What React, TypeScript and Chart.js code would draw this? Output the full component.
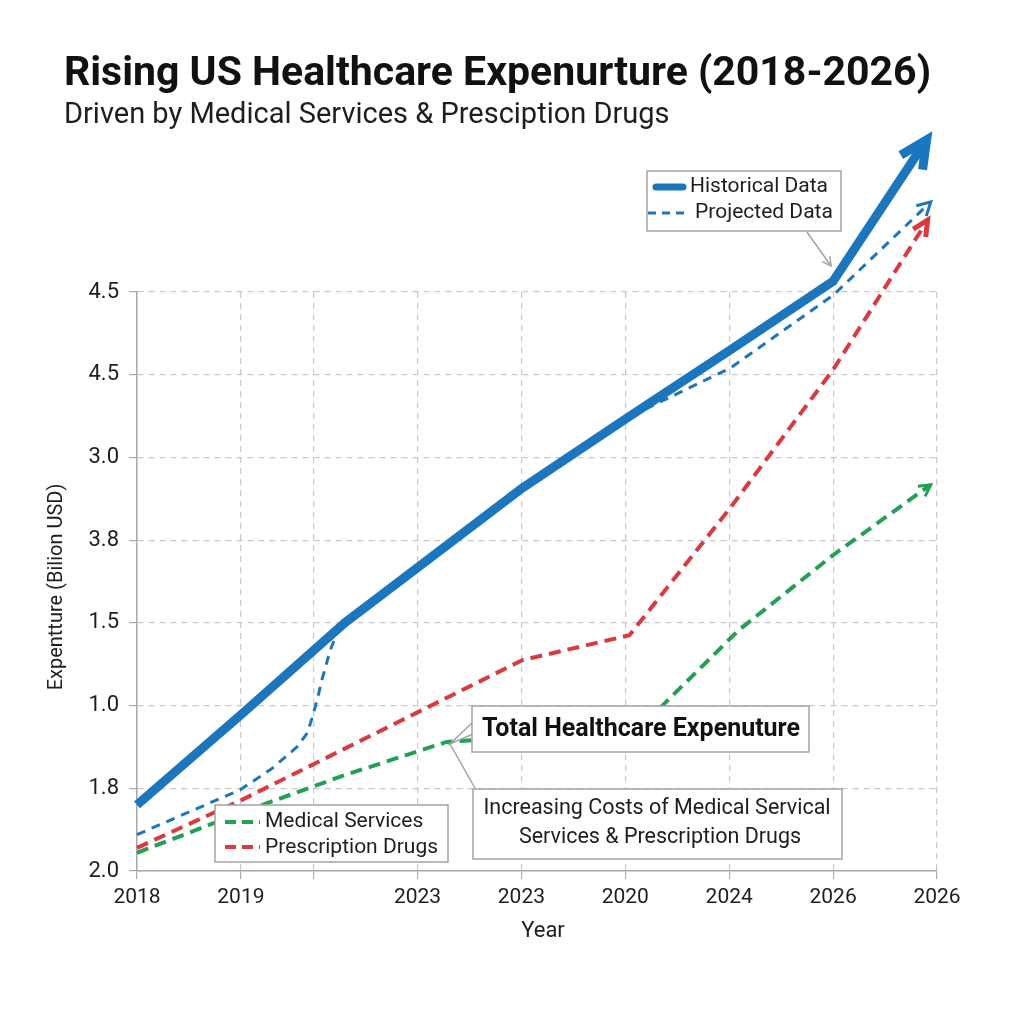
import React, { useEffect, useRef } from 'react';
import { Chart, registerables } from 'chart.js';

Chart.register(...registerables);

// ---- data ----
const xTickPositions = [0, 1, 1.7, 2.7, 3.7, 4.7, 5.7, 6.7, 7.7];
const xTickLabels = ['2018', '2019', '', '2023', '2023', '2020', '2024', '2026', '2026'];
const yTickLabels = ['2.0', '1.8', '1.0', '1.5', '3.8', '3.0', '4.5', '4.5'];

const historicalX = [0, 1.01, 2.0, 3.71, 4.72, 5.71, 6.7, 7.6];
const historicalY = [0.8, 1.9, 3.0, 4.63, 5.48, 6.3, 7.13, 8.84];

const projectedX = [0, 0.99, 1.3, 1.54, 1.64, 1.69, 1.74, 1.78, 1.86, 1.93, 2.0, 3.71, 4.72, 5.71, 6.7, 7.64];
const projectedY = [0.44, 0.98, 1.24, 1.5, 1.67, 1.87, 2.1, 2.31, 2.67, 2.89, 3.01, 4.63, 5.48, 6.08, 6.96, 8.09];

const prescriptionX = [0, 1.01, 3.71, 4.74, 5.71, 6.7, 7.61];
const prescriptionY = [0.28, 0.86, 2.55, 2.85, 4.39, 6.06, 7.87];

const medicalX = [0, 1.01, 2.0, 2.98, 4.84, 5.79, 6.7, 7.64];
const medicalY = [0.22, 0.71, 1.16, 1.56, 1.73, 2.91, 3.82, 4.67];

const titleText = 'Rising US Healthcare Expenurture (2018-2026)';
const subtitleText = 'Driven by Medical Services & Presciption Drugs';
const xAxisTitle = 'Year';
const yAxisTitle = 'Expentture (Bilion USD)';
const legendTop = ['Historical Data', 'Projected Data'];
const legendBottom = ['Medical Services', 'Prescription Drugs'];
const calloutMain = 'Total Healthcare Expenuture';
const calloutSub = ['Increasing Costs of Medical Servical', 'Services & Prescription Drugs'];

const BLUE = '#1c76bd';
const RED = '#d83a40';
const GREEN = '#23a056';
const FONT = 'Roboto, "Noto Sans", sans-serif';
const TEXT = '#1e1e1e';
const BOX = '#a3a3a3';

const toPts = (xs: number[], ys: number[]) => xs.map((x, i) => ({ x, y: ys[i] }));

function arrowHead(ctx: CanvasRenderingContext2D, from: any, to: any, len: number, spread: number, width: number, color: string) {
  const a = Math.atan2(to.y - from.y, to.x - from.x);
  ctx.save();
  ctx.setLineDash([]);
  ctx.strokeStyle = color;
  ctx.lineWidth = width;
  ctx.lineJoin = 'miter';
  ctx.lineCap = 'butt';
  ctx.beginPath();
  ctx.moveTo(to.x - len * Math.cos(a - spread), to.y - len * Math.sin(a - spread));
  ctx.lineTo(to.x, to.y);
  ctx.lineTo(to.x - len * Math.cos(a + spread), to.y - len * Math.sin(a + spread));
  ctx.stroke();
  ctx.restore();
}

function box(ctx: CanvasRenderingContext2D, x: number, y: number, w: number, h: number) {
  ctx.save();
  ctx.setLineDash([]);
  ctx.fillStyle = '#ffffff';
  ctx.fillRect(x, y, w, h);
  ctx.strokeStyle = BOX;
  ctx.lineWidth = 1.5;
  ctx.strokeRect(x, y, w, h);
  ctx.restore();
}

function sample(ctx: CanvasRenderingContext2D, x1: number, x2: number, y: number, color: string, width: number, dash: number[]) {
  ctx.save();
  ctx.strokeStyle = color;
  ctx.lineWidth = width;
  ctx.setLineDash(dash);
  ctx.lineCap = dash.length ? 'butt' : 'round';
  ctx.beginPath();
  ctx.moveTo(x1, y);
  ctx.lineTo(x2, y);
  ctx.stroke();
  ctx.restore();
}

const overlayPlugin = {
  id: 'overlay',
  beforeDraw(chart: any) {
    const ctx = chart.ctx;
    ctx.save();
    ctx.fillStyle = '#ffffff';
    ctx.fillRect(0, 0, chart.width, chart.height);
    ctx.restore();
  },
  afterDatasetsDraw(chart: any) {
    const ctx: CanvasRenderingContext2D = chart.ctx;
    const last = (i: number) => {
      const d = chart.getDatasetMeta(i).data;
      return [d[d.length - 2], d[d.length - 1]];
    };
    // arrowheads
    let [p, q] = last(0);
    arrowHead(ctx, p, q, 30, 0.45, 9, BLUE);
    [p, q] = last(1);
    arrowHead(ctx, p, q, 15, 0.5, 3, BLUE);
    [p, q] = last(2);
    arrowHead(ctx, p, q, 17, 0.45, 5, RED);
    [p, q] = last(3);
    arrowHead(ctx, p, q, 13, 0.5, 3, GREEN);

    // top-right legend
    box(ctx, 647, 171, 194, 60);
    sample(ctx, 656, 683, 187, BLUE, 7, []);
    sample(ctx, 648, 688, 213, BLUE, 3, [8, 6]);
    ctx.save();
    ctx.fillStyle = TEXT;
    ctx.font = `21px ${FONT}`;
    ctx.textBaseline = 'middle';
    ctx.textAlign = 'left';
    ctx.fillText(legendTop[0], 690, 187);
    ctx.fillText(legendTop[1], 695, 213);
    ctx.restore();
    // pointer from legend
    ctx.save();
    ctx.strokeStyle = BOX;
    ctx.lineWidth = 1.5;
    ctx.beginPath();
    ctx.moveTo(807, 232);
    ctx.lineTo(831, 266);
    ctx.stroke();
    ctx.restore();
    arrowHead(ctx, { x: 807, y: 232 }, { x: 831, y: 266 }, 10, 0.5, 1.5, BOX);

    // bottom-left legend
    box(ctx, 215, 805, 233, 57);
    sample(ctx, 225, 260, 822, GREEN, 4, [11, 6]);
    sample(ctx, 225, 260, 847, RED, 4, [11, 6]);
    ctx.save();
    ctx.fillStyle = TEXT;
    ctx.font = `21px ${FONT}`;
    ctx.textBaseline = 'middle';
    ctx.textAlign = 'left';
    ctx.fillText(legendBottom[0], 265, 822);
    ctx.fillText(legendBottom[1], 265, 848);
    ctx.restore();

    // callout pointers
    ctx.save();
    ctx.strokeStyle = BOX;
    ctx.lineWidth = 1.5;
    ctx.beginPath();
    ctx.moveTo(473, 722);
    ctx.lineTo(450, 744);
    ctx.lineTo(473, 734);
    ctx.moveTo(450, 744);
    ctx.lineTo(476, 790);
    ctx.stroke();
    ctx.restore();

    // callout main
    box(ctx, 472, 706, 337, 46);
    ctx.save();
    ctx.fillStyle = '#111';
    ctx.font = `bold 25px ${FONT}`;
    ctx.textBaseline = 'middle';
    ctx.textAlign = 'center';
    ctx.fillText(calloutMain, 641, 730);
    ctx.restore();

    // callout sub
    box(ctx, 473, 789, 369, 70);
    ctx.save();
    ctx.fillStyle = TEXT;
    ctx.font = `21.5px ${FONT}`;
    ctx.textBaseline = 'middle';
    ctx.textAlign = 'center';
    ctx.fillText(calloutSub[0], 657, 809);
    ctx.fillText(calloutSub[1], 660, 838);
    ctx.restore();
  },
  afterDraw(chart: any) {
    const ctx: CanvasRenderingContext2D = chart.ctx;
    ctx.save();
    ctx.fillStyle = '#111';
    ctx.textBaseline = 'middle';
    ctx.textAlign = 'left';
    ctx.font = `bold 41px ${FONT}`;
    ctx.fillText(titleText, 64, 75);
    ctx.fillStyle = TEXT;
    ctx.font = `29px ${FONT}`;
    ctx.fillText(subtitleText, 64, 116);
    ctx.font = `22px ${FONT}`;
    ctx.textAlign = 'center';
    ctx.fillText(xAxisTitle, 543, 931);
    ctx.translate(57, 587);
    ctx.rotate(-Math.PI / 2);
    ctx.font = `20px ${FONT}`;
    ctx.fillText(yAxisTitle, 0, 0);
    ctx.restore();
  },
};

export default function App() {
  const ref = useRef<HTMLCanvasElement | null>(null);
  useEffect(() => {
    if (!ref.current) return;
    const common = { pointRadius: 0, pointHoverRadius: 0, fill: false, tension: 0, clip: false as any, showLine: true };
    const chart = new Chart(ref.current, {
      type: 'line',
      data: {
        datasets: [
          { label: 'Historical Data', data: toPts(historicalX, historicalY), borderColor: BLUE, borderWidth: 9, order: 0, ...common },
          { label: 'Projected Data', data: toPts(projectedX, projectedY), borderColor: BLUE, borderWidth: 3, borderDash: [9, 7], borderJoinStyle: 'round' as any, order: 1, ...common },
          { label: 'Prescription Drugs', data: toPts(prescriptionX, prescriptionY), borderColor: RED, borderWidth: 4, borderDash: [12, 7], order: 2, ...common },
          { label: 'Medical Services', data: toPts(medicalX, medicalY), borderColor: GREEN, borderWidth: 4, borderDash: [12, 7], order: 3, ...common },
        ],
      },
      options: {
        animation: false,
        responsive: false,
        maintainAspectRatio: false,
        devicePixelRatio: 1,
        layout: { padding: { top: 292, right: 87, left: 0, bottom: 0 } },
        plugins: { legend: { display: false }, tooltip: { enabled: false }, title: { display: false } },
        scales: {
          x: {
            type: 'linear',
            min: 0,
            max: 7.7,
            afterFit: (s: any) => { s.height = 153; },
            afterBuildTicks: (s: any) => { s.ticks = xTickPositions.map((v) => ({ value: v })); },
            ticks: {
              autoSkip: false,
              maxRotation: 0,
              padding: 6,
              color: TEXT,
              font: { family: FONT, size: 21 },
              callback: (_v: any, i: number) => xTickLabels[i],
            },
            grid: { color: '#c9c9c9', tickLength: 8, tickColor: '#aaaaaa', tickBorderDash: [] as any, lineWidth: 1.2 },
            border: { display: true, color: '#aaaaaa', width: 1.5, dash: [6, 5] },
          },
          y: {
            type: 'linear',
            min: 0,
            max: 7,
            afterFit: (s: any) => { s.width = 137; },
            ticks: {
              stepSize: 1,
              padding: 10,
              color: TEXT,
              font: { family: FONT, size: 22 },
              callback: (v: any) => yTickLabels[Math.round(Number(v))],
            },
            grid: { color: '#c9c9c9', tickLength: 8, tickColor: '#aaaaaa', tickBorderDash: [] as any, lineWidth: 1.2 },
            border: { display: true, color: '#aaaaaa', width: 1.5, dash: [6, 5] },
          },
        },
      },
      plugins: [overlayPlugin],
    });
    return () => chart.destroy();
  }, []);
  return (
    <div style={{ position: 'fixed', left: 0, top: 0, width: 1024, height: 1024, background: '#fff' }}>
      <canvas ref={ref} width={1024} height={1024} style={{ width: 1024, height: 1024, display: 'block' }} />
    </div>
  );
}
